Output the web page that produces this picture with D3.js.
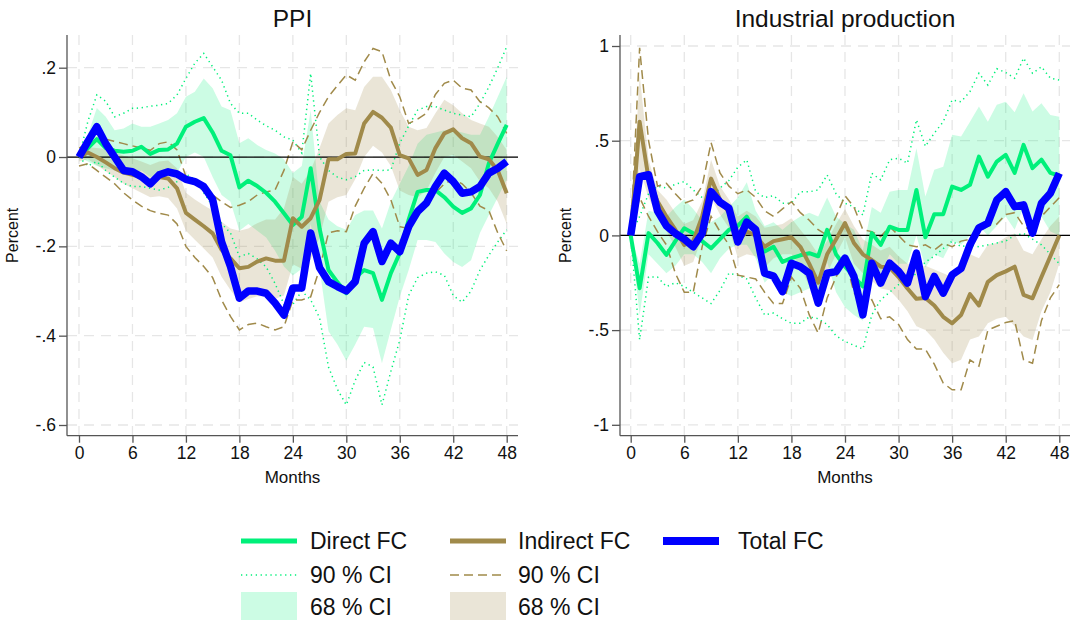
<!DOCTYPE html>
<html>
<head>
<meta charset="utf-8">
<script src="https://cdn.jsdelivr.net/npm/d3@7/dist/d3.min.js"></script>
<style>
body { margin: 0; background: #fff; }
svg { font-family: Arial, "Liberation Sans", sans-serif; }
</style>
</head>
<body>
<svg id="chart" width="1070" height="620"></svg>
<script>
// months 0..48 on the x axis
var months = d3.range(0, 49);
var monthTicks = [0, 6, 12, 18, 24, 30, 36, 42, 48];

// ---- PPI panel ----
var ppiTicks = [0.2, 0, -0.2, -0.4, -0.6];
var ppiTickLabels = [".2", "0", "-.2", "-.4", "-.6"];

var ppiTotal = [0, 0.035, 0.068, 0.03, 0.0, -0.03, -0.033, -0.044, -0.06, -0.04,
  -0.033, -0.038, -0.05, -0.055, -0.066, -0.095, -0.19, -0.245, -0.316, -0.3,
  -0.3, -0.305, -0.327, -0.354, -0.293, -0.293, -0.17, -0.248, -0.279, -0.29,
  -0.3, -0.279, -0.193, -0.167, -0.234, -0.193, -0.212, -0.156, -0.122, -0.103,
  -0.066, -0.036, -0.055, -0.081, -0.078, -0.066, -0.036, -0.025, -0.01];

var ppiDirect = [0, 0.02, 0.04, 0.02, 0.014, 0.012, 0.014, 0.023, 0.007, 0.016,
  0.017, 0.03, 0.068, 0.079, 0.087, 0.055, 0.014, 0.004, -0.068, -0.053,
  -0.065, -0.08, -0.1, -0.126, -0.152, -0.134, -0.025, -0.16, -0.253, -0.28,
  -0.305, -0.27, -0.253, -0.26, -0.32, -0.26, -0.215, -0.14, -0.078, -0.074,
  -0.074, -0.09, -0.111, -0.125, -0.115, -0.085, -0.014, 0.03, 0.072];
var ppiDirectHi68 = [0, 0.05, 0.11, 0.09, 0.06, 0.064, 0.075, 0.068, 0.068, 0.075,
  0.083, 0.098, 0.135, 0.146, 0.176, 0.154, 0.113, 0.105, 0.031, 0.042,
  0.027, 0.016, 0.008, -0.005, -0.036, -0.02, 0.105, -0.1, -0.14, -0.155,
  -0.163, -0.13, -0.12, -0.12, -0.16, -0.1, -0.06, -0.02, 0.03, 0.05,
  0.055, 0.06, 0.06, 0.055, 0.05, 0.05, 0.09, 0.135, 0.18];
var ppiDirectLo68 = [0, -0.01, -0.02, -0.025, -0.03, -0.035, -0.04, -0.03, -0.045, -0.04,
  -0.04, -0.035, 0.0, 0.01, 0.0, -0.045, -0.085, -0.1, -0.165, -0.15,
  -0.165, -0.18, -0.21, -0.245, -0.265, -0.25, -0.15, -0.25, -0.39, -0.42,
  -0.456, -0.42, -0.38, -0.383, -0.462, -0.387, -0.313, -0.253, -0.186, -0.186,
  -0.19, -0.216, -0.235, -0.246, -0.231, -0.17, -0.13, -0.09, -0.05];
var ppiDirectHi90 = [0, 0.08, 0.139, 0.125, 0.09, 0.098, 0.109, 0.11, 0.114, 0.116,
  0.12, 0.139, 0.176, 0.21, 0.232, 0.202, 0.172, 0.12, 0.098, 0.098,
  0.083, 0.07, 0.06, 0.045, 0.038, 0.009, 0.187, 0.0, -0.03, -0.045,
  -0.051, -0.044, -0.03, -0.029, -0.03, -0.029, 0.031, 0.07, 0.105, 0.113,
  0.113, 0.105, 0.098, 0.094, 0.09, 0.12, 0.157, 0.2, 0.247];
var ppiDirectLo90 = [0, -0.02, -0.01, -0.03, -0.045, -0.059, -0.066, -0.066, -0.07, -0.074,
  -0.068, -0.055, -0.038, -0.05, -0.08, -0.11, -0.149, -0.17, -0.223, -0.216,
  -0.228, -0.246, -0.283, -0.33, -0.33, -0.3, -0.32, -0.36, -0.47, -0.52,
  -0.555, -0.5, -0.46, -0.47, -0.555, -0.48, -0.41, -0.31, -0.27, -0.26,
  -0.257, -0.265, -0.31, -0.325, -0.3, -0.253, -0.22, -0.19, -0.163];

var ppiIndirect = [0, 0.01, 0.0, -0.012, -0.025, -0.035, -0.04, -0.045, -0.055, -0.045,
  -0.048, -0.07, -0.125, -0.14, -0.155, -0.171, -0.208, -0.227, -0.249, -0.246,
  -0.234, -0.227, -0.232, -0.232, -0.137, -0.156, -0.137, -0.096, -0.005, -0.005,
  0.007, 0.008, 0.075, 0.101, 0.088, 0.066, 0.004, -0.003, -0.04, -0.029,
  0.02, 0.053, 0.062, 0.042, 0.031, 0.001, -0.005, -0.03, -0.081];
var ppiIndirectHi68 = [0.01, 0.022, 0.02, 0.018, 0.01, 0.003, -0.003, -0.01, -0.018, -0.01,
  -0.008, -0.025, -0.08, -0.095, -0.108, -0.12, -0.145, -0.16, -0.165, -0.16,
  -0.148, -0.14, -0.14, -0.115, -0.045, -0.06, -0.03, 0.02, 0.075, 0.094,
  0.109, 0.105, 0.157, 0.18, 0.18, 0.15, 0.105, 0.068, 0.06, 0.065,
  0.098, 0.128, 0.116, 0.098, 0.083, 0.075, 0.068, 0.045, 0.016];
var ppiIndirectLo68 = [-0.01, -0.005, -0.018, -0.032, -0.045, -0.06, -0.07, -0.08, -0.09, -0.088,
  -0.092, -0.115, -0.165, -0.185, -0.205, -0.225, -0.268, -0.298, -0.325, -0.318,
  -0.312, -0.312, -0.318, -0.31, -0.24, -0.25, -0.23, -0.18, -0.1, -0.09,
  -0.085, -0.05, 0.0, 0.025, 0.01, -0.02, -0.075, -0.085, -0.09, -0.075,
  -0.035, 0.0, 0.005, -0.01, -0.025, -0.055, -0.07, -0.1, -0.15];
var ppiIndirectHi90 = [0.02, 0.03, 0.035, 0.04, 0.035, 0.03, 0.025, 0.02, 0.015, 0.03,
  0.034, 0.016, -0.044, -0.06, -0.075, -0.085, -0.1, -0.113, -0.108, -0.1,
  -0.085, -0.078, -0.074, -0.03, 0.034, 0.016, 0.06, 0.1, 0.135, 0.16,
  0.184, 0.172, 0.213, 0.243, 0.236, 0.172, 0.135, 0.075, 0.085, 0.098,
  0.14, 0.165, 0.172, 0.154, 0.15, 0.124, 0.11, 0.09, 0.053];
var ppiIndirectLo90 = [-0.02, -0.015, -0.03, -0.045, -0.06, -0.08, -0.096, -0.11, -0.12, -0.126,
  -0.13, -0.15, -0.2, -0.225, -0.245, -0.27, -0.32, -0.357, -0.387, -0.375,
  -0.372, -0.38, -0.387, -0.38, -0.32, -0.32, -0.313, -0.25, -0.17, -0.165,
  -0.167, -0.11, -0.07, -0.037, -0.059, -0.096, -0.156, -0.16, -0.13, -0.11,
  -0.08, -0.06, -0.05, -0.06, -0.08, -0.11, -0.12, -0.17, -0.21];

// ---- Industrial production panel ----
var ipTicks = [1, 0.5, 0, -0.5, -1];
var ipTickLabels = ["1", ".5", "0", "-.5", "-1"];

var ipTotal = [0, 0.31, 0.32, 0.13, 0.05, 0.01, -0.02, -0.06, 0.01, 0.231,
  0.175, 0.144, -0.035, 0.07, 0.03, -0.2, -0.215, -0.297, -0.147, -0.165,
  -0.2, -0.358, -0.2, -0.191, -0.12, -0.217, -0.42, -0.147, -0.252, -0.147,
  -0.19, -0.252, -0.094, -0.323, -0.217, -0.305, -0.208, -0.175, -0.05, 0.04,
  0.064, 0.187, 0.231, 0.152, 0.161, 0.012, 0.17, 0.223, 0.328];

var ipDirect = [0, -0.279, 0.012, -0.04, -0.103, -0.03, 0.038, 0.012, -0.03, -0.068,
  -0.02, 0.029, 0.05, 0.099, 0.012, -0.085, -0.06, -0.14, -0.12, -0.105,
  -0.094, -0.11, 0.029, -0.1, -0.165, -0.217, -0.27, 0.012, -0.05, 0.046,
  0.029, 0.029, 0.24, -0.01, 0.112, 0.112, 0.258, 0.24, 0.267, 0.416,
  0.31, 0.39, 0.425, 0.33, 0.478, 0.355, 0.4, 0.33, 0.315];
var ipDirectHi68 = [0, -0.15, 0.13, 0.12, 0.1, 0.15, 0.19, 0.14, 0.08, 0.07,
  0.1, 0.15, 0.2, 0.28, 0.13, 0.05, 0.07, 0.03, 0.07, 0.1,
  0.12, 0.1, 0.2, 0.1, 0.06, 0.03, -0.08, 0.15, 0.12, 0.23,
  0.24, 0.24, 0.46, 0.205, 0.346, 0.363, 0.531, 0.522, 0.6, 0.68,
  0.6, 0.69, 0.706, 0.65, 0.75, 0.654, 0.698, 0.636, 0.627];
var ipDirectLo68 = [0, -0.42, -0.1, -0.15, -0.2, -0.16, -0.1, -0.1, -0.14, -0.2,
  -0.12, -0.07, -0.05, -0.05, -0.12, -0.25, -0.2, -0.3, -0.32, -0.3,
  -0.28, -0.3, -0.14, -0.3, -0.38, -0.42, -0.45, -0.13, -0.2, -0.1,
  -0.15, -0.15, 0.0, -0.17, -0.1, -0.12, -0.03, -0.05, 0.0, 0.05,
  0.0, 0.05, 0.1, 0.03, 0.15, 0.05, 0.1, 0.02, 0.0];
var ipDirectHi90 = [0, 0.1, 0.22, 0.26, 0.25, 0.27, 0.284, 0.24, 0.2, 0.2,
  0.25, 0.29, 0.36, 0.399, 0.23, 0.2, 0.21, 0.17, 0.17, 0.23,
  0.23, 0.24, 0.319, 0.22, 0.17, 0.15, 0.108, 0.328, 0.293, 0.399,
  0.408, 0.381, 0.61, 0.47, 0.54, 0.6, 0.715, 0.706, 0.76, 0.856,
  0.794, 0.88, 0.86, 0.83, 0.936, 0.856, 0.89, 0.83, 0.82];
var ipDirectLo90 = [0, -0.55, -0.22, -0.22, -0.27, -0.25, -0.27, -0.3, -0.33, -0.36,
  -0.29, -0.2, -0.21, -0.23, -0.33, -0.42, -0.41, -0.44, -0.464, -0.464,
  -0.43, -0.44, -0.47, -0.53, -0.56, -0.58, -0.6, -0.42, -0.34, -0.3,
  -0.26, -0.24, -0.2, -0.14, -0.11, -0.07, -0.03, -0.06, -0.05, -0.06,
  -0.05, -0.04, -0.03, 0.0, 0.01, -0.02, -0.05, -0.1, -0.15];

var ipIndirect = [0, 0.6, 0.3, 0.18, 0.1, 0.03, -0.05, -0.03, 0.1, 0.3,
  0.19, 0.12, -0.03, 0.02, 0.0, -0.06, -0.03, -0.02, -0.01, -0.06,
  -0.15, -0.25, -0.1, -0.02, 0.065, -0.04, -0.1, -0.13, -0.165, -0.17,
  -0.22, -0.28, -0.335, -0.33, -0.37, -0.43, -0.464, -0.42, -0.31, -0.37,
  -0.245, -0.21, -0.19, -0.165, -0.314, -0.332, -0.22, -0.11, 0.0];
var ipIndirectHi68 = [0, 0.85, 0.4, 0.24, 0.19, 0.12, 0.06, 0.08, 0.18, 0.4,
  0.26, 0.19, 0.1, 0.13, 0.1, 0.04, 0.05, 0.06, 0.09, 0.03,
  -0.03, -0.1, -0.03, 0.06, 0.14, 0.05, -0.02, -0.05, -0.08, -0.06,
  -0.11, -0.15, -0.17, -0.16, -0.18, -0.2, -0.22, -0.17, -0.1, -0.12,
  -0.05, -0.04, -0.01, 0.01, -0.08, -0.1, -0.02, 0.05, 0.1];
var ipIndirectLo68 = [0, 0.35, 0.2, 0.1, 0.02, -0.06, -0.16, -0.14, -0.01, 0.2,
  0.11, 0.04, -0.12, -0.1, -0.11, -0.17, -0.12, -0.1, -0.1, -0.16,
  -0.27, -0.38, -0.2, -0.1, -0.01, -0.15, -0.2, -0.24, -0.28, -0.29,
  -0.34, -0.4, -0.48, -0.5, -0.55, -0.62, -0.675, -0.657, -0.55, -0.534,
  -0.464, -0.44, -0.43, -0.48, -0.534, -0.552, -0.4, -0.3, -0.15];
var ipIndirectHi90 = [0, 0.99, 0.5, 0.26, 0.275, 0.22, 0.17, 0.187, 0.26, 0.49,
  0.33, 0.26, 0.22, 0.24, 0.2, 0.13, 0.1, 0.14, 0.178, 0.12,
  0.08, 0.03, 0.0, 0.1, 0.21, 0.15, 0.03, 0.02, -0.006, 0.046,
  0.0, -0.05, -0.06, -0.05, -0.077, -0.041, -0.06, -0.03, -0.02, 0.02,
  0.05, 0.06, 0.11, 0.12, 0.05, 0.02, 0.1, 0.15, 0.2];
var ipIndirectLo90 = [0, 0.2, 0.1, 0.02, -0.05, -0.2, -0.3, -0.3, -0.06, 0.1,
  0.02, -0.05, -0.21, -0.22, -0.23, -0.3, -0.36, -0.36, -0.22, -0.28,
  -0.42, -0.516, -0.33, -0.22, -0.12, -0.3, -0.38, -0.34, -0.44, -0.43,
  -0.47, -0.55, -0.6, -0.6, -0.68, -0.78, -0.815, -0.815, -0.657, -0.69,
  -0.5, -0.48, -0.46, -0.45, -0.657, -0.675, -0.45, -0.33, -0.26];

var colDirect = "#00F07A";
var colIndirect = "#A08A4A";
var colTotal = "#0000FF";

var panels = [
  {
    title: "PPI", left: 67, right: 518, top: 35, bottom: 435.7,
    xRange: [79, 506.7], yDomain: [0.2, -0.6], yRange: [67.7, 425],
    ticks: ppiTicks, tickLabels: ppiTickLabels, ylabX: 18,
    direct: ppiDirect, dHi68: ppiDirectHi68, dLo68: ppiDirectLo68, dHi90: ppiDirectHi90, dLo90: ppiDirectLo90,
    indirect: ppiIndirect, iHi68: ppiIndirectHi68, iLo68: ppiIndirectLo68, iHi90: ppiIndirectHi90, iLo90: ppiIndirectLo90,
    total: ppiTotal
  },
  {
    title: "Industrial production", left: 620, right: 1070, top: 35, bottom: 435.7,
    xRange: [630.7, 1059.3], yDomain: [1, -1], yRange: [46, 424.8],
    ticks: ipTicks, tickLabels: ipTickLabels, ylabX: 571,
    direct: ipDirect, dHi68: ipDirectHi68, dLo68: ipDirectLo68, dHi90: ipDirectHi90, dLo90: ipDirectLo90,
    indirect: ipIndirect, iHi68: ipIndirectHi68, iLo68: ipIndirectLo68, iHi90: ipIndirectHi90, iLo90: ipIndirectLo90,
    total: ipTotal
  }
];

var svg = d3.select("#chart");

function drawPanel(p) {
  var g = svg.append("g");
  var x = d3.scaleLinear().domain([0, 48]).range(p.xRange);
  var y = d3.scaleLinear().domain(p.yDomain).range(p.yRange);

  // grid
  g.selectAll("line.vgrid").data(monthTicks).enter().append("line")
    .attr("x1", function(d) { return x(d); }).attr("x2", function(d) { return x(d); })
    .attr("y1", p.top).attr("y2", p.bottom)
    .attr("stroke", "#e6e6e6").attr("stroke-width", 1.3).attr("stroke-dasharray", "10,7");
  g.selectAll("line.hgrid").data(p.ticks).enter().append("line")
    .attr("x1", p.left).attr("x2", p.right)
    .attr("y1", function(d) { return y(d); }).attr("y2", function(d) { return y(d); })
    .attr("stroke", "#e6e6e6").attr("stroke-width", 1.3).attr("stroke-dasharray", "10,7");

  function band(lo, hi) {
    return d3.area()
      .x(function(d) { return x(d); })
      .y0(function(d) { return y(lo[d]); })
      .y1(function(d) { return y(hi[d]); })(months);
  }
  function line(vals) {
    return d3.line()
      .x(function(d) { return x(d); })
      .y(function(d) { return y(vals[d]); })(months);
  }

  // 68% bands
  g.append("path").attr("d", band(p.dLo68, p.dHi68))
    .attr("fill", colDirect).attr("fill-opacity", 0.2);
  g.append("path").attr("d", band(p.iLo68, p.iHi68))
    .attr("fill", colIndirect).attr("fill-opacity", 0.22);

  // 90% bounds
  [p.dHi90, p.dLo90].forEach(function(s) {
    g.append("path").attr("d", line(s)).attr("fill", "none")
      .attr("stroke", colDirect).attr("stroke-width", 1.5).attr("stroke-dasharray", "1.3,3.6");
  });
  [p.iHi90, p.iLo90].forEach(function(s) {
    g.append("path").attr("d", line(s)).attr("fill", "none")
      .attr("stroke", colIndirect).attr("stroke-width", 1.5).attr("stroke-dasharray", "9,5");
  });

  // zero line
  g.append("line").attr("x1", p.left).attr("x2", p.right)
    .attr("y1", y(0)).attr("y2", y(0))
    .attr("stroke", "#000").attr("stroke-width", 1.2);

  g.append("path").attr("d", line(p.direct)).attr("fill", "none")
    .attr("stroke", colDirect).attr("stroke-width", 4).attr("stroke-linejoin", "round");
  g.append("path").attr("d", line(p.indirect)).attr("fill", "none")
    .attr("stroke", colIndirect).attr("stroke-width", 4).attr("stroke-linejoin", "round");
  g.append("path").attr("d", line(p.total)).attr("fill", "none")
    .attr("stroke", colTotal).attr("stroke-width", 7.5).attr("stroke-linejoin", "round");

  // axes
  var yAxis = d3.axisLeft(y).tickValues(p.ticks)
    .tickFormat(function(d, i) { return p.tickLabels[i]; })
    .tickSize(8).tickPadding(3).tickSizeOuter(0);
  var ya = g.append("g").attr("transform", "translate(" + p.left + ",0)").call(yAxis);
  ya.select(".domain").attr("d", "M0," + p.top + "V" + p.bottom);

  var xAxis = d3.axisBottom(x).tickValues(monthTicks).tickSize(7).tickPadding(4).tickSizeOuter(0);
  var xa = g.append("g").attr("transform", "translate(0," + p.bottom + ")").call(xAxis);
  xa.select(".domain").attr("d", "M" + p.left + ",0H" + p.right);

  [ya, xa].forEach(function(a) {
    a.select(".domain").attr("stroke", "#555").attr("stroke-width", 1.3);
    a.selectAll(".tick line").attr("stroke", "#555").attr("stroke-width", 1.3);
    a.selectAll(".tick text").attr("fill", "#111").style("font-size", "17.5px")
      .style("font-family", "Arial, 'Liberation Sans', sans-serif");
  });

  g.append("text").attr("x", (p.left + p.right) / 2).attr("y", 27)
    .attr("text-anchor", "middle").style("font-size", "24.5px").attr("fill", "#111")
    .text(p.title);
  g.append("text").attr("x", (p.left + p.right) / 2).attr("y", 483)
    .attr("text-anchor", "middle").style("font-size", "17px").attr("fill", "#111")
    .text("Months");
  g.append("text").attr("transform", "translate(" + p.ylabX + "," + ((p.top + p.bottom) / 2) + ") rotate(-90)")
    .attr("text-anchor", "middle").style("font-size", "16px").attr("fill", "#111")
    .text("Percent");
}

panels.forEach(drawPanel);

// legend
var leg = svg.append("g");
var legCols = [241, 450, 663];
var legRows = [541, 575, 607];
var legLen = 56;

function legText(xp, yp, t) {
  leg.append("text").attr("x", xp).attr("y", yp + 8).style("font-size", "23px")
    .attr("fill", "#111").text(t);
}
function legLine(xp, yp, col, w, dash) {
  var l = leg.append("line").attr("x1", xp).attr("x2", xp + legLen)
    .attr("y1", yp).attr("y2", yp).attr("stroke", col).attr("stroke-width", w);
  if (dash) l.attr("stroke-dasharray", dash);
}
legLine(legCols[0], legRows[0], colDirect, 5);
legText(legCols[0] + 69, legRows[0], "Direct FC");
legLine(legCols[1], legRows[0], colIndirect, 5);
legText(legCols[1] + 68, legRows[0], "Indirect FC");
legLine(legCols[2], legRows[0], colTotal, 8);
legText(legCols[2] + 75, legRows[0], "Total FC");

legLine(legCols[0], legRows[1], colDirect, 1.5, "1.3,3.6");
legText(legCols[0] + 69, legRows[1], "90 % CI");
legLine(legCols[1], legRows[1], colIndirect, 1.5, "9,5");
legText(legCols[1] + 68, legRows[1], "90 % CI");

leg.append("rect").attr("x", legCols[0]).attr("y", legRows[2] - 15).attr("width", legLen).attr("height", 29)
  .attr("fill", colDirect).attr("fill-opacity", 0.2);
legText(legCols[0] + 69, legRows[2], "68 % CI");
leg.append("rect").attr("x", legCols[1]).attr("y", legRows[2] - 15).attr("width", legLen).attr("height", 29)
  .attr("fill", colIndirect).attr("fill-opacity", 0.22);
legText(legCols[1] + 68, legRows[2], "68 % CI");
</script>
</body>
</html>
